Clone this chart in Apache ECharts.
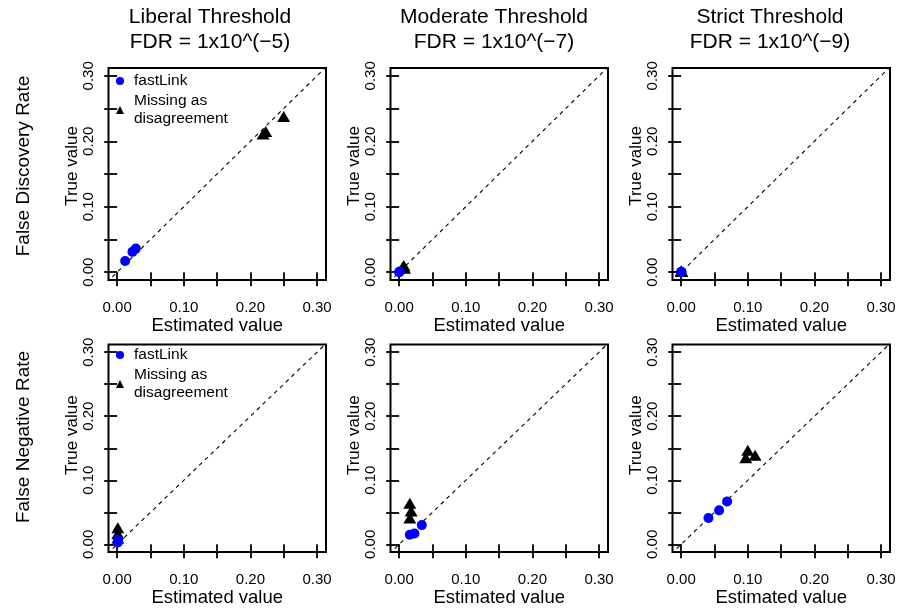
<!DOCTYPE html>
<html>
<head>
<meta charset="utf-8">
<script src="https://cdn.jsdelivr.net/npm/echarts@6/dist/echarts.min.js"></script>
<style>
html,body{margin:0;padding:0;background:#fff;}
#chart{width:899px;height:608px;}
</style>
</head>
<body>
<div id="chart"></div>
<script>
// ---- data ----
const colTitles = ['Liberal Threshold', 'Moderate Threshold', 'Strict Threshold'];
const fdrTitles = ['FDR = 1x10^(\u22125)', 'FDR = 1x10^(\u22127)', 'FDR = 1x10^(\u22129)'];
const rowLabels = ['False Discovery Rate', 'False Negative Rate'];
const seriesNames = ['fastLink', 'Missing as disagreement'];
const tickValues = [0, 0.05, 0.10, 0.15, 0.20, 0.25, 0.30];
const tickLabels = [0, 0.10, 0.20, 0.30];
const diagonal = [-0.05, 0.35];

// each point: [estimated, true]
const fdrLiberalFastLink = [[0.012, 0.017], [0.023, 0.031], [0.028, 0.036]];
const fdrLiberalMissing  = [[0.219, 0.211], [0.223, 0.215], [0.250, 0.238]];
const fdrModerateFastLink = [[0.000, 0.000], [0.001, 0.001], [0.0005, 0.0005]];
const fdrModerateMissing  = [[0.005, 0.007], [0.007, 0.010], [0.008, 0.006]];
const fdrStrictFastLink = [[0.000, 0.000], [0.0005, 0.0003], [0.0003, 0.0006]];
const fdrStrictMissing  = [[0.000, 0.002], [0.0005, 0.001], [0.001, 0.001]];
const fnrLiberalFastLink = [[0.001, 0.003], [0.0015, 0.005], [0.001, 0.007]];
const fnrLiberalMissing  = [[0.001, 0.010], [0.001, 0.017], [0.001, 0.026]];
const fnrModerateFastLink = [[0.016, 0.015], [0.023, 0.017], [0.034, 0.030]];
const fnrModerateMissing  = [[0.016, 0.041], [0.018, 0.052], [0.016, 0.064]];
const fnrStrictFastLink = [[0.041, 0.041], [0.057, 0.053], [0.069, 0.067]];
const fnrStrictMissing  = [[0.097, 0.135], [0.100, 0.147], [0.111, 0.139]];

const panels = [
  [fdrLiberalFastLink, fdrLiberalMissing],
  [fdrModerateFastLink, fdrModerateMissing],
  [fdrStrictFastLink, fdrStrictMissing],
  [fnrLiberalFastLink, fnrLiberalMissing],
  [fnrModerateFastLink, fnrModerateMissing],
  [fnrStrictFastLink, fnrStrictMissing]
];

// ---- layout ----
const FONT = '"Liberation Sans", Arial, Helvetica, sans-serif';
const colLeft = [108.5, 390.5, 672.5];
const rowTop = [68, 344.5];
const gridW = 217.5, gridH = [212, 213];
const colTitleX = [210, 494, 770];
const yNameShift = [16, 26];

const grids = [], xAxes = [], yAxes = [], series = [];
const fmt = v => v.toFixed(2);

panels.forEach((p, i) => {
  const r = Math.floor(i / 3), c = i % 3;
  grids.push({
    left: colLeft[c], top: rowTop[r], width: gridW, height: gridH[r],
    show: true, borderColor: '#000', borderWidth: 2, backgroundColor: 'transparent',
    containLabel: false
  });
  xAxes.push({
    type: 'value', gridIndex: i, min: -0.013, max: 0.3135,
    splitLine: {show: false},
    axisLine: {show: false},
    axisTick: {show: true, length: 14, lineStyle: {color: '#000', width: 1.8}, customValues: tickValues},
    axisLabel: {show: true, margin: 20, color: '#000', fontSize: 15, fontFamily: FONT,
                customValues: tickLabels, formatter: fmt},
    name: 'Estimated value', nameLocation: 'middle', nameGap: 36,
    nameTextStyle: {color: '#000', fontSize: 18.5, fontFamily: FONT}
  });
  yAxes.push({
    type: 'value', gridIndex: i, min: -0.012, max: 0.312,
    splitLine: {show: false},
    axisLine: {show: false},
    axisTick: {show: true, length: 13, lineStyle: {color: '#000', width: 1.8}, customValues: tickValues},
    axisLabel: {show: true, margin: 12, rotate: 90, color: '#000', fontSize: 15, fontFamily: FONT,
                customValues: tickLabels, formatter: fmt},
    name: 'True value', nameLocation: 'middle', nameGap: 27, nameRotate: 90,
    nameTextStyle: {color: '#000', fontSize: 17, fontFamily: FONT, padding: [0, 0, 0, yNameShift[r]]}
  });
  series.push({
    type: 'line', xAxisIndex: i, yAxisIndex: i, silent: true,
    data: [[diagonal[0], diagonal[0]], [diagonal[1], diagonal[1]]],
    showSymbol: false, symbol: 'none', clip: true,
    lineStyle: {color: '#000', width: 1.1, type: [4, 4]}, z: 1
  });
  series.push({
    name: seriesNames[1], type: 'scatter', xAxisIndex: i, yAxisIndex: i,
    data: p[1], symbol: 'triangle', symbolSize: [13, 11],
    itemStyle: {color: '#000', opacity: 1}, z: 2
  });
  series.push({
    name: seriesNames[0], type: 'scatter', xAxisIndex: i, yAxisIndex: i,
    data: p[0], symbol: 'circle', symbolSize: 10,
    itemStyle: {color: '#0000ff', opacity: 1}, z: 3
  });
});

const legendBase = (top) => ({
  left: 116, top: top, orient: 'vertical', itemGap: 2, padding: 0,
  itemWidth: 8, itemHeight: 8,
  selectedMode: false,
  data: [{name: seriesNames[0], icon: 'circle'}, {name: seriesNames[1], icon: 'triangle'}],
  formatter: n => n === seriesNames[1] ? 'Missing as\ndisagreement' : n,
  textStyle: {color: '#000', fontSize: 15.5, fontFamily: FONT, lineHeight: 18, padding: [0, 0, 0, 5]}
});

const graphics = [];
colTitles.forEach((t, c) => {
  graphics.push({type: 'text', x: colTitleX[c], y: 17, style: {text: t, font: '21px ' + FONT, fill: '#000', align: 'center', verticalAlign: 'middle'}});
  graphics.push({type: 'text', x: colTitleX[c], y: 42, style: {text: fdrTitles[c], font: '21px ' + FONT, fill: '#000', align: 'center', verticalAlign: 'middle'}});
});
const rowCenterY = [166, 437];
rowLabels.forEach((t, r) => {
  graphics.push({type: 'text', x: 24, y: rowCenterY[r], rotation: Math.PI / 2,
    style: {text: t, font: '19px ' + FONT, fill: '#000', align: 'center', verticalAlign: 'middle'}});
});

const chart = echarts.init(document.getElementById('chart'), null, {renderer: 'canvas'});
chart.setOption({
  animation: false,
  backgroundColor: '#fff',
  grid: grids, xAxis: xAxes, yAxis: yAxes, series: series,
  legend: [legendBase(72), legendBase(346)],
  graphic: graphics
});
</script>
</body>
</html>
